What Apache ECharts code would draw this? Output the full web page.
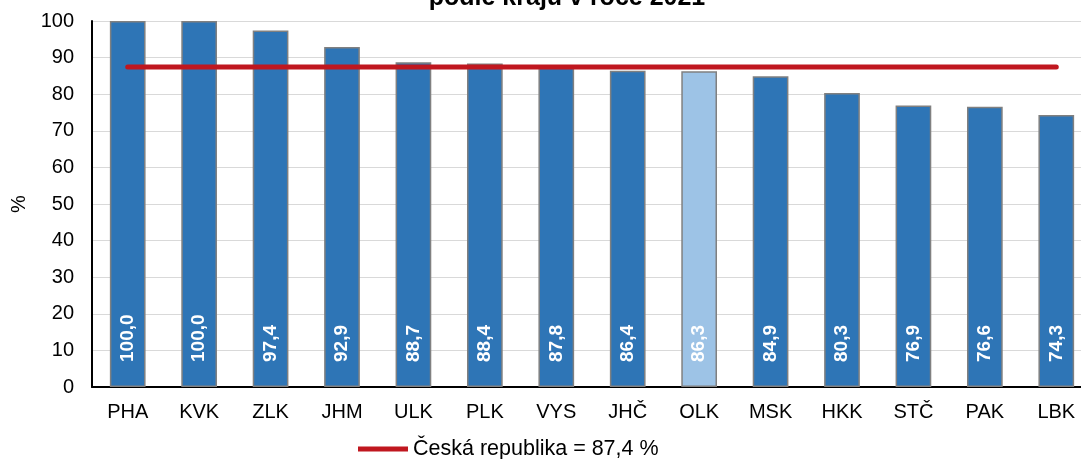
<!DOCTYPE html>
<html><head><meta charset="utf-8">
<script src="https://cdn.jsdelivr.net/npm/echarts@6/dist/echarts.min.js"></script>
<style>html,body{margin:0;padding:0;background:#fff}#c{width:1081px;height:459px}</style>
</head><body><div id="c"></div>
<script>
const categories = ['PHA','KVK','ZLK','JHM','ULK','PLK','VYS','JHČ','OLK','MSK','HKK','STČ','PAK','LBK'];
const values = [100.0,100.0,97.4,92.9,88.7,88.4,87.8,86.4,86.3,84.9,80.3,76.9,76.6,74.3];
const highlight = 'OLK';
const czValue = 87.4;
const czLabel = 'Česká republika = 87,4 %';
const titleText = 'podle kraju v roce 2021';
const yTicks = {min:0,max:100,interval:10};

const font = 'Liberation Sans, Arial, sans-serif';
const chart = echarts.init(document.getElementById('c'));
chart.setOption({
  animation:false,
  title:{text:titleText,left:562,textAlign:'center',top:-19,textStyle:{fontFamily:font,fontSize:25,fontWeight:'bold',color:'#000'}},
  grid:{left:92,right:-11,top:21,bottom:72,outerBoundsMode:'none',containLabel:false},
  legend:{data:[{name:czLabel,icon:'rect'}],top:433,left:353,itemWidth:50,itemHeight:5,itemGap:12,
    textStyle:{fontFamily:font,fontSize:21.5,color:'#000'}},
  xAxis:{type:'category',data:categories,axisTick:{show:false},
    axisLine:{lineStyle:{color:'#000',width:2}},
    axisLabel:{fontFamily:font,fontSize:20,color:'#000',margin:15}},
  yAxis:{type:'value',min:yTicks.min,max:yTicks.max,interval:yTicks.interval,
    name:'%',nameLocation:'middle',nameGap:63,nameRotate:90,
    nameTextStyle:{fontFamily:font,fontSize:20,color:'#000'},
    axisLine:{show:true,lineStyle:{color:'#000',width:2}},axisTick:{show:false},
    axisLabel:{fontFamily:font,fontSize:20,color:'#000',margin:18},
    splitLine:{lineStyle:{color:'#D9D9D9',width:1}}},
  series:[
    {type:'bar',name:'kraje',barWidth:'50%',
     data:categories.map((c,i)=>({value:values[i],itemStyle:{color:c===highlight?'#9DC3E6':'#2E75B6'}})),
     itemStyle:{borderColor:'#808080',borderWidth:1.5},
     label:{show:true,position:'insideBottom',rotate:90,align:'left',verticalAlign:'middle',distance:25,
       fontFamily:font,fontSize:19,fontWeight:'bold',color:'#fff',
       formatter:p=>p.value.toFixed(1).replace('.',',')}},
    {type:'line',name:czLabel,data:categories.map(()=>czValue),symbol:'none',
     lineStyle:{color:'#C0171F',width:5,cap:'round'},itemStyle:{color:'#C0171F'},z:5}
  ]
});
</script></body></html>
